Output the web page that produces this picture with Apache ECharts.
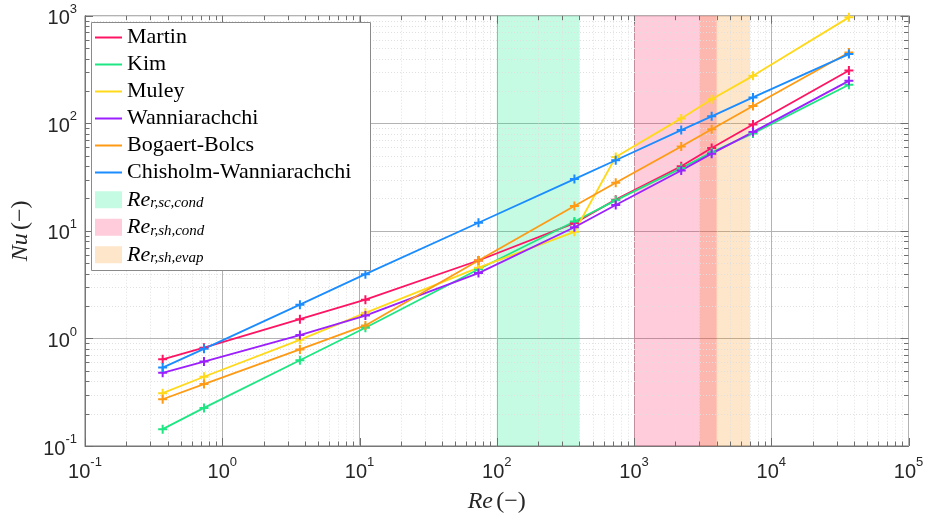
<!DOCTYPE html>
<html><head><meta charset="utf-8">
<script src="https://cdn.jsdelivr.net/npm/echarts@6/dist/echarts.min.js"></script>
<style>html,body{margin:0;padding:0;background:#fff}#c{width:928px;height:519px}</style>
</head><body><div id="c"></div>
<script>
// ---- data ----
const re = [0.368, 0.736, 3.68, 11.04, 73.6, 368, 736, 2208, 3680, 7360, 36800];
const martin   = [0.64, 0.82, 1.51, 2.29, 5.3, 11.8, 19.5, 39.8, 58.9, 97.5, 309];
const kim      = [0.1435, 0.226, 0.627, 1.255, 4.4, 12.2, 19.2, 38.3, 53.8, 80.5, 228];
const muley    = [0.31, 0.44, 0.97, 1.73, 4.55, 9.8, 48.6, 111, 167, 276, 965];
const wann     = [0.479, 0.61, 1.075, 1.63, 4.05, 10.8, 17.4, 36.4, 52.2, 82.8, 248];
const bogaert  = [0.272, 0.376, 0.79, 1.32, 5.3, 17.0, 28.0, 60.8, 88, 145, 455];
const chisholm = [0.536, 0.80, 2.06, 3.96, 11.9, 30.3, 45.3, 86.4, 116, 174, 440];
const seriesNames = ['Martin', 'Kim', 'Muley', 'Wanniarachchi', 'Bogaert-Bolcs', 'Chisholm-Wanniarachchi'];
const seriesValues = [martin, kim, muley, wann, bogaert, chisholm];
const seriesColors = ['#ff1464', '#1ee682', '#ffd91a', '#9b1fff', '#ff9a14', '#1a8cff'];
const bandNames = ['Re_r,sc,cond', 'Re_r,sh,cond', 'Re_r,sh,evap'];
const bandSubs = ['r,sc,cond', 'r,sh,cond', 'r,sh,evap'];
const bandRanges = [[100, 400], [1000, 4000], [3000, 7000]];
const bandColors = ['rgba(0,238,130,0.23)', 'rgba(250,0,72,0.2)', 'rgba(245,135,0,0.21)'];
const xTicks = [0.1, 1, 10, 100, 1000, 10000, 100000];
const yTicks = [0.1, 1, 10, 100, 1000];

// ---- axis decorations (minor grid + ticks) ----
const deco = [];
function addDeco(ticks, isX) {
  ticks.forEach((t, i) => {
    deco.push(isX ? [t, 1, 2] : [1, t, 3]);
    if (i < ticks.length - 1) {
      for (let m = 2; m <= 9; m++) {
        const v = t * m;
        deco.push(isX ? [v, 1, 0] : [1, v, 1]);
      }
    }
  });
}
addDeco(xTicks, true);
addDeco(yTicks, false);

const tickColor = '#6e6e6e';
function seg(x1, y1, x2, y2, style) {
  return { type: 'line', shape: { x1, y1, x2, y2 }, style };
}
function renderDeco(params, api) {
  const cs = params.coordSys;
  const L = cs.x, R = cs.x + cs.width, T = cs.y, B = cs.y + cs.height;
  const kind = api.value(2);
  const ch = [];
  const tickStyle = { stroke: tickColor, lineWidth: 1 };
  const gridStyle = { stroke: '#e0e0e0', lineWidth: 1, lineDash: [1, 2] };
  if (kind === 0 || kind === 2) {
    const px = Math.round(api.coord([api.value(0), 1])[0]) + 0.5;
    const len = kind === 2 ? 8 : 4.5;
    if (kind === 0) ch.push(seg(px, T, px, B, gridStyle));
    ch.push(seg(px, B, px, B - len, tickStyle), seg(px, T, px, T + len, tickStyle));
  } else {
    const py = Math.round(api.coord([1, api.value(1)])[1]) + 0.5;
    const len = kind === 3 ? 8 : 4.5;
    if (kind === 1) ch.push(seg(L, py, R, py, gridStyle));
    ch.push(seg(L, py, L + len, py, tickStyle), seg(R, py, R - len, py, tickStyle));
  }
  return { type: 'group', children: ch };
}

const plus = 'path://M3.5,0H5.5V3.5H9V5.5H5.5V9H3.5V5.5H0V3.5H3.5Z';
const serif = '"Liberation Serif", "Times New Roman", serif';
const sans = '"Liberation Sans", Arial, Helvetica, sans-serif';

function powLabel(v) {
  const e = Math.round(Math.log10(v));
  return '{b|10}{s|' + e + '}';
}
const powRich = {
  b: { fontFamily: sans, fontSize: 20, lineHeight: 20, verticalAlign: 'bottom', color: '#262626' },
  s: { fontFamily: sans, fontSize: 13, lineHeight: 26, verticalAlign: 'top', padding: [0, 0, 4, 0], color: '#262626' }
};

const series = [];
series.push({
  type: 'custom', name: '_deco', data: deco, renderItem: renderDeco,
  silent: true, z: 1, clip: false, animation: false, tooltip: { show: false }
});
// bands: draw order green, orange, pink (pink over orange)
[0, 2, 1].forEach(i => {
  series.push({
    type: 'line', name: bandNames[i], data: [], z: 2, silent: true,
    color: bandColors[i], itemStyle: { color: bandColors[i] },
    markArea: {
      silent: true, itemStyle: { color: bandColors[i] },
      data: [[{ xAxis: bandRanges[i][0] }, { xAxis: bandRanges[i][1] }]]
    }
  });
});
seriesNames.forEach((n, k) => {
  series.push({
    type: 'line', name: n, z: 3,
    data: re.map((x, i) => [x, seriesValues[k][i]]),
    symbol: plus, symbolSize: 9, showAllSymbol: true,
    color: seriesColors[k],
    itemStyle: { color: seriesColors[k], borderWidth: 0 },
    lineStyle: { color: seriesColors[k], width: 1.8 },
    emphasis: { disabled: true }, animation: false
  });
});

const option = {
  animation: false,
  backgroundColor: '#fff',
  grid: { left: 85, right: 19.5, top: 15.7, bottom: 70, show: true, borderColor: '#777', borderWidth: 1, backgroundColor: '#fff' },
  xAxis: {
    type: 'log', logBase: 10, min: 0.1, max: 100000, splitNumber: 6,
    axisLine: { show: true, lineStyle: { color: '#777' } },
    axisTick: { show: false },
    axisLabel: { formatter: powLabel, rich: powRich, margin: 10 },
    splitLine: { show: true, lineStyle: { color: '#b3b3b3', width: 1 } },
    name: '{i|Re} {n|(−)}', nameLocation: 'middle', nameGap: 44,
    nameTextStyle: { rich: {
      i: { fontFamily: serif, fontStyle: 'italic', fontSize: 24, color: '#262626' },
      n: { fontFamily: serif, fontSize: 24, color: '#262626' } } }
  },
  yAxis: {
    type: 'log', logBase: 10, min: 0.1, max: 1000, splitNumber: 4,
    axisLine: { show: true, lineStyle: { color: '#777' } },
    axisTick: { show: false },
    axisLabel: { formatter: powLabel, rich: powRich, margin: 8 },
    splitLine: { show: true, lineStyle: { color: '#b3b3b3', width: 1 } },
    name: '{i|Nu} {n|(−)}', nameLocation: 'middle', nameGap: 50,
    nameTextStyle: { rich: {
      i: { fontFamily: serif, fontStyle: 'italic', fontSize: 24, color: '#262626' },
      n: { fontFamily: serif, fontSize: 24, color: '#262626' } } }
  },
  legend: [{
    data: seriesNames, orient: 'vertical', left: 95, top: 24, padding: 0,
    itemWidth: 27, itemHeight: 2, itemGap: 0, icon: 'rect', selectedMode: false, z: 100,
    itemStyle: { borderWidth: 0 },
    textStyle: { fontFamily: serif, fontSize: 22, lineHeight: 27, color: '#000' }
  }, {
    data: bandNames, orient: 'vertical', left: 95, top: 186, padding: 0,
    itemWidth: 27, itemHeight: 17, itemGap: 0, icon: 'rect', selectedMode: false, z: 100,
    itemStyle: { borderWidth: 0 },
    formatter: name => '{i|Re}{u|' + bandSubs[bandNames.indexOf(name)] + '}',
    textStyle: { fontFamily: serif, fontSize: 22, lineHeight: 27.5, color: '#000',
      rich: {
        i: { fontFamily: serif, fontStyle: 'italic', fontSize: 22, lineHeight: 27.5, verticalAlign: 'middle', color: '#000' },
        u: { fontFamily: serif, fontStyle: 'italic', fontSize: 15, lineHeight: 15, verticalAlign: 'middle', padding: [7, 0, 0, 0], color: '#000' }
      } }
  }],
  graphic: [{
    type: 'rect', z: 90, silent: true,
    shape: { x: 91.5, y: 22.5, width: 279, height: 248 },
    style: { fill: '#fff', stroke: '#8a8a8a', lineWidth: 1 }
  }],
  series
};
const chart = echarts.init(document.getElementById('c'), null, { renderer: 'canvas' });
chart.setOption(option);
</script></body></html>
